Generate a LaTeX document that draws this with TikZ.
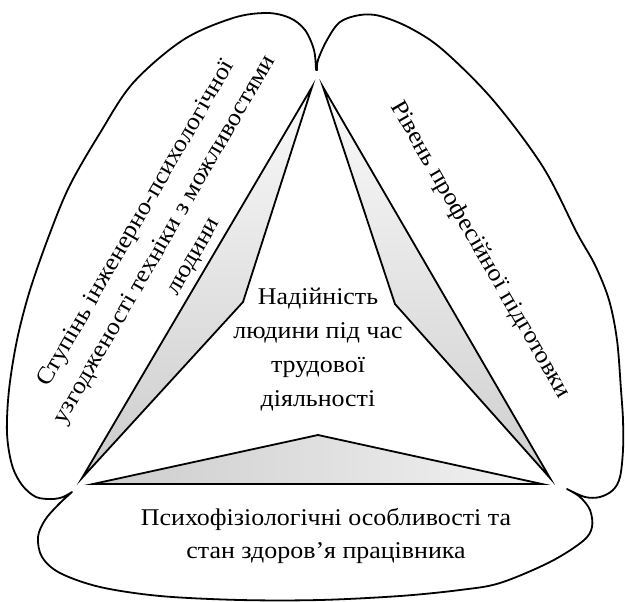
\documentclass[tikz,border=0pt]{standalone}
\usepackage{fontspec}
\setmainfont{Liberation Serif}[FakeStretch=1.08]
\begin{document}
\begin{tikzpicture}[x=1pt,y=-1pt,
  outline/.style={line width=1.8pt, line join=round},
  wedge/.style={draw, line width=1.8pt, line join=miter},
  caption/.style={font=\fontsize{24}{34}\selectfont, align=center, inner sep=0pt},
  slanted/.style={font=\fontsize{24}{33}\selectfont, align=center, inner sep=0pt}]
\useasboundingbox (0,0) rectangle (625,602);

% three-lobed outline with inward cusps
\draw[outline]
  plot[smooth, tension=0.55] coordinates {(316,70) (314,50) (305,30) (290,18) (267,13) (233,18) (183,40) (133,83) (100,133) (70,185) (50,233) (30,290) (17,340) (9,390) (7,433) (12,465) (22,485) (36,497) (52,499) (63,497) (72,492)}
  -- plot[smooth, tension=0.55] coordinates {(72,492) (58,505) (45,520) (38,537) (42,557) (60,573) (100,587) (160,596) (240,600) (320,600) (400,596) (460,590) (500,583) (550,562) (583,541) (592,527) (590,510) (580,497) (567,489)}
  -- plot[smooth, tension=0.55] coordinates {(567,489) (585,497) (600,497) (613,490) (620,477) (623,450) (623,420) (621,390) (617,340) (609,300) (595,265) (577,233) (543,167) (493,100) (443,50) (410,28) (380,16) (360,15) (340,22) (327,40) (318,60) (317,70)}
  -- cycle;

% wedge corners
\coordinate (lt) at (312,87);  \coordinate (li) at (243,302); \coordinate (lb) at (82,478);
\coordinate (rt) at (323,87);  \coordinate (ri) at (395,304); \coordinate (rb) at (550,478);
\coordinate (bl) at (93,484);  \coordinate (bi) at (318,435); \coordinate (br) at (542,484);

\draw[wedge, top color=gray!4, bottom color=gray!40] (lt) -- (li) -- (lb) -- cycle;
\draw[wedge, top color=gray!4, bottom color=gray!38] (rt) -- (ri) -- (rb) -- cycle;
\draw[wedge, left color=gray!40, right color=gray!10] (bl) -- (bi) -- (br) -- cycle;

% labels
\node[caption] (core) at (318,350) {Надійність\\людини під час\\трудової\\діяльності};
\node[slanted, rotate=60] (ergo) at (165,240) {Ступінь інженерно-психологічної\\узгодженості техніки з можливостями\\людини};
\node[slanted, rotate=-60] (prof) at (480,250) {Рівень професійної підготовки};
\node[caption, font=\fontsize{24}{33}\selectfont] (health) at (326,536) {Психофізіологічні особливості та\\стан здоров’я працівника};
\end{tikzpicture}
\end{document}
